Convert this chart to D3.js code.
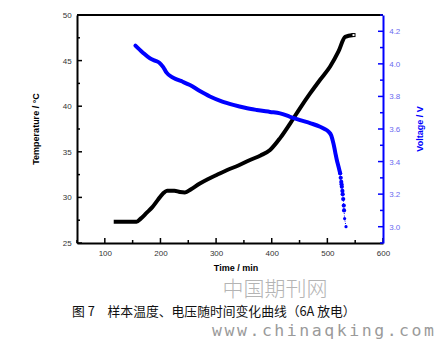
<!DOCTYPE html>
<html><head><meta charset="utf-8">
<script src="https://cdn.jsdelivr.net/npm/d3@7"></script>
<style>body{margin:0;background:#fff}svg{display:block}</style>
</head><body>
<svg id="c" width="442" height="341"></svg>
<script>
const tempTime = [116,157,165,175,185,195,205,212,225,235,244,255,270,285,301,320,340,361,380,397,415,433,451,469,487,505,520,532,547];
const tempVal  = [27.34,27.34,27.7,28.3,28.9,29.7,30.45,30.74,30.74,30.6,30.55,30.9,31.5,32.0,32.46,33.0,33.5,34.1,34.6,35.2,36.5,38.1,39.8,41.4,42.9,44.35,46.0,47.6,47.8];
const voltTime = [155,168,181,190,198,205,211,220,229,240,253,270,289,310,331,352,373,397,415,433,451,470,487,495,502,507,511,514,517,520,523];
const voltVal  = [4.112,4.07,4.034,4.02,4.007,3.98,3.946,3.92,3.905,3.89,3.87,3.835,3.80,3.77,3.748,3.73,3.717,3.705,3.696,3.675,3.655,3.635,3.614,3.60,3.584,3.56,3.51,3.46,3.41,3.37,3.328];
const voltTailTime = [524,525,525.5,526,527,527.5,528.5,529.5,530,531,533.5];
const voltTailVal  = [3.30,3.275,3.26,3.246,3.22,3.20,3.17,3.13,3.10,3.05,3.0];
const xTicks = [100,200,300,400,500,600];
const tTicks = [25,30,35,40,45,50];
const vTicks = [3.0,3.2,3.4,3.6,3.8,4.0,4.2];

const svg = d3.select('#c');
const L=77, R=383, T=15, B=243;
const x = d3.scaleLinear().domain([50,600]).range([L,R]);
const yT = d3.scaleLinear().domain([25,50]).range([B,T]);
const yV = d3.scaleLinear().domain([2.9,4.3]).range([B,T]);
const font = 'Arial, "Liberation Sans", sans-serif';

// frame top
svg.append('line').attr('x1',L).attr('x2',R).attr('y1',T).attr('y2',T).attr('stroke','#000').attr('stroke-width',2);

// bottom axis
const gx = svg.append('g').attr('transform',`translate(0,${B})`);
gx.call(d3.axisBottom(x).tickValues(xTicks).tickSize(0).tickFormat(d3.format('d')));
gx.select('.domain').attr('stroke','#000').attr('stroke-width',2);
gx.selectAll('text').attr('dy','1.2em').attr('font-family',font).attr('font-size',8).attr('fill','#333');
d3.range(50,601,50).forEach(v=>{
  const major = v%100===0;
  gx.append('line').attr('x1',x(v)).attr('x2',x(v)).attr('y1',0).attr('y2',major?-5:-3).attr('stroke','#000').attr('stroke-width',1.5);
});

// left axis
const gl = svg.append('g').attr('transform',`translate(${L},0)`);
gl.call(d3.axisLeft(yT).tickValues(tTicks).tickSize(0));
gl.select('.domain').attr('stroke','#000').attr('stroke-width',2);
gl.selectAll('text').attr('dx','-0.3em').attr('font-family',font).attr('font-size',8).attr('fill','#333');
d3.range(25,50.1,2.5).forEach(v=>{
  const major = v%5===0;
  gl.append('line').attr('x1',0).attr('x2',major?5:3).attr('y1',yT(v)).attr('y2',yT(v)).attr('stroke','#000').attr('stroke-width',1.5);
});

// right axis
const gr = svg.append('g').attr('transform',`translate(${R},0)`);
gr.call(d3.axisRight(yV).tickValues(vTicks).tickSize(0).tickFormat(d3.format('.1f')));
gr.select('.domain').attr('stroke','#00f').attr('stroke-width',2);
gr.selectAll('text').attr('dx','0.4em').attr('font-family',font).attr('font-size',8).attr('fill','#6a6af0');
d3.range(2.9,4.31,0.1).forEach(v=>{
  const major = Math.round(v*10)%2===0;
  gr.append('line').attr('x1',0).attr('x2',major?-5:-3).attr('y1',yV(v)).attr('y2',yV(v)).attr('stroke','#00f').attr('stroke-width',1.5);
});

// temperature line
const tempData = tempTime.map((t,i)=>[t,tempVal[i]]);
svg.append('path').datum(tempData)
  .attr('d', d3.line().x(d=>x(d[0])).y(d=>yT(d[1])).curve(d3.curveMonotoneX))
  .attr('fill','none').attr('stroke','#000').attr('stroke-width',4).attr('stroke-linejoin','round');
const last = tempData[tempData.length-1];
svg.append('rect').attr('x',x(last[0])-1.5).attr('y',yT(last[1])-1.5).attr('width',3).attr('height',3)
  .attr('fill','#fff').attr('stroke','#000').attr('stroke-width',1);

// voltage line
const voltData = voltTime.map((t,i)=>[t,voltVal[i]]);
svg.append('path').datum(voltData)
  .attr('d', d3.line().x(d=>x(d[0])).y(d=>yV(d[1])).curve(d3.curveMonotoneX))
  .attr('fill','none').attr('stroke','#00f').attr('stroke-width',4).attr('stroke-linecap','round').attr('stroke-linejoin','round');
const tailData = [[voltTime[voltTime.length-1],voltVal[voltVal.length-1]]].concat(voltTailTime.map((t,i)=>[t,voltTailVal[i]]));
svg.append('path').datum(tailData)
  .attr('d', d3.line().x(d=>x(d[0])).y(d=>yV(d[1])))
  .attr('fill','none').attr('stroke','#00f').attr('stroke-width',1).attr('stroke-dasharray','1,1.5');
svg.selectAll('.vt').data(tailData).enter().append('circle')
  .attr('cx',d=>x(d[0])).attr('cy',d=>yV(d[1])).attr('r',(d,i)=>i>=tailData.length-2?1.6:2.1).attr('fill','#00f');

// axis titles
svg.append('text').attr('transform',`translate(39,${(T+B)/2}) rotate(-90)`).attr('text-anchor','middle')
  .attr('font-family',font).attr('font-size',9).attr('font-weight','bold').attr('fill','#000').text('Temperature / °C');
svg.append('text').attr('transform',`translate(423,${(T+B)/2}) rotate(-90)`).attr('text-anchor','middle')
  .attr('font-family',font).attr('font-size',9).attr('font-weight','bold').attr('fill','#00f').text('Voltage / V');
svg.append('text').attr('x',236).attr('y',271).attr('text-anchor','middle')
  .attr('font-family',font).attr('font-size',9).attr('font-weight','bold').attr('fill','#000').text('Time / min');

// watermark + caption
svg.append('text').attr('x',275).attr('y',296).attr('text-anchor','middle')
  .attr('font-family','"Noto Sans CJK SC", sans-serif').attr('font-size',21).attr('font-weight',300).attr('fill','#b4b4b4').text('中国期刊网');
svg.append('text').attr('x',72).attr('y',316)
  .attr('font-family','"Noto Sans CJK SC", sans-serif').attr('font-size',12.8).attr('fill','#111').text('图 7　样本温度、电压随时间变化曲线（6A 放电）');
svg.append('text').attr('x',212).attr('y',336)
  .attr('font-family','"DejaVu Sans Mono", monospace').attr('font-size',16.5).attr('fill','#9a9a9a')
  .attr('textLength',222).attr('lengthAdjust','spacing').text('www.chinaqking.com');
</script>
</body></html>
